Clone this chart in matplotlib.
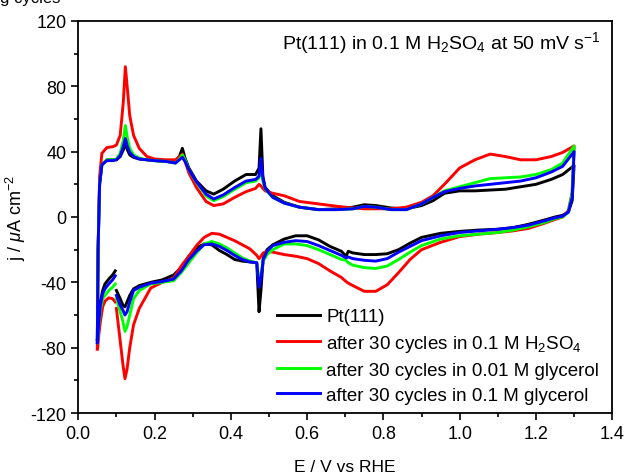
import numpy as np
import matplotlib.pyplot as plt

plt.rcParams['font.family'] = ['Liberation Sans', 'DejaVu Sans']
plt.rcParams['mathtext.fontset'] = 'custom'
plt.rcParams['mathtext.rm'] = 'Liberation Sans'
plt.rcParams['mathtext.it'] = 'Liberation Sans:italic'
plt.rcParams['axes.unicode_minus'] = False

# potential grids (V vs RHE)
E_up = [0.05, 0.052, 0.056, 0.062, 0.075, 0.09, 0.10, 0.11, 0.118, 0.1235, 0.129, 0.135,
        0.145, 0.16, 0.18, 0.20, 0.23, 0.255, 0.265, 0.273, 0.28, 0.29, 0.31, 0.335, 0.355,
        0.38, 0.41, 0.44, 0.465, 0.474, 0.479, 0.484, 0.49, 0.51, 0.54, 0.58, 0.63, 0.68,
        0.72, 0.75, 0.78, 0.82, 0.86, 0.9, 0.93, 0.96, 1.0, 1.04, 1.08, 1.12, 1.16, 1.2,
        1.24, 1.27, 1.3]
E_down = [1.3, 1.295, 1.285, 1.27, 1.25, 1.22, 1.18, 1.14, 1.1, 1.05, 1.0, 0.95, 0.9, 0.87,
          0.84, 0.81, 0.78, 0.75, 0.72, 0.708, 0.702, 0.69, 0.66, 0.63, 0.60, 0.57, 0.54,
          0.51, 0.495, 0.485, 0.479, 0.474, 0.468, 0.45, 0.43, 0.41, 0.39, 0.37, 0.35, 0.33,
          0.31, 0.29, 0.27, 0.25, 0.22, 0.19, 0.16, 0.145, 0.135, 0.128, 0.1225, 0.117, 0.11,
          0.10]
E_tail = [0.097, 0.09, 0.08, 0.07, 0.064, 0.058, 0.054, 0.051, 0.05]

# current density (uA cm-2)
pt_up = [-75, -20, 20, 32, 35, 35, 35, 37, 41, 45, 41, 38, 36.5, 35.5, 35, 34.5, 34, 33.5,
         37, 42, 36, 30, 22, 16, 14, 17, 22, 26, 26, 30, 54, 25, 18, 13, 9, 6, 4.5, 5, 6,
         7.5, 7, 5.5, 5, 7, 10, 14.5, 16, 16, 16.5, 17, 18.5, 20, 23, 26, 31.5]
pt_down = [31.5, 10, 3, 1, 0, -2, -4.5, -6.5, -7.5, -8, -8.8, -10, -12.5, -16, -20, -22.5,
           -23, -23, -22, -21, -24, -21, -18, -14, -11.5, -11.5, -13.5, -17, -20, -25, -45,
           -58, -28, -27.5, -27, -26, -23, -20.5, -17, -16.5, -19, -24, -31, -35.5, -38.5,
           -40, -42, -44, -48, -52, -55, -54, -50, -45]
pt_tail = [-33, -35.5, -38, -41, -45, -52, -62, -72, -75]

h2so4_up = [-80, -20, 25, 39, 42.5, 43, 44, 50, 70, 92, 78, 62, 50, 42, 37, 35.5, 35, 35,
            37, 38.5, 34, 27, 18, 9.5, 7, 8, 12, 15.5, 17.5, 20, 19, 17.5, 16, 14.5, 13, 9.5,
            8, 6.5, 5.5, 5, 5, 5, 6, 9, 13, 20, 30, 35, 38.5, 37, 35, 35, 37, 39.5, 43.5]
h2so4_down = [43.5, 15, 4, 0, -1.5, -4, -7, -8.5, -9.5, -10.5, -12, -15.5, -20, -26, -34,
              -41.5, -45.5, -45.5, -42, -40.5, -39.5, -37, -33, -28.5, -25.5, -24, -23,
              -21.5, -21, -22, -24, -25.5, -23.5, -19.5, -17, -14.5, -12.5, -10.5, -10,
              -12.5, -17.5, -24, -30, -37.5, -40, -43.5, -56, -66, -80, -93, -99, -90, -76,
              -56]
h2so4_tail = [-52, -50, -49.5, -51.5, -55, -64, -72, -80, -81]

gly001_up = [-76, -20, 20, 32, 35, 35, 35.5, 39, 47, 56, 48, 42, 38, 36, 35, 34.5, 34, 33,
             35.5, 38, 35, 29, 21, 13, 10, 12.5, 17, 21, 22, 24, 30, 22, 17, 12, 8.5, 6,
             4.5, 4.5, 5, 6.5, 6, 4.5, 4.5, 8, 12, 16, 18.5, 21, 23.5, 24, 24.5, 26, 29, 33,
             43.5]
gly001_down = [43.5, 15, 3, 0, -1, -3.5, -6, -8, -9.5, -10.5, -11.5, -13.5, -17.5, -21.5,
               -26, -30, -31.5, -31, -29.5, -28, -26.5, -26, -23, -20, -17.5, -16.5, -16.5,
               -20, -23, -27, -35, -40, -28, -27, -25, -22, -19, -16.5, -15, -16.5, -22,
               -28, -34, -39, -40, -41, -45, -50, -60, -67, -70, -64, -58, -50]
gly001_tail = [-41, -43, -45, -48, -50, -57, -66, -76, -77]

gly01_up = [-76, -20, 20, 32, 34.5, 34.5, 35, 37.5, 43, 48, 43, 39.5, 37, 35.5, 35, 34.5,
            34, 33, 35, 36.5, 34, 29, 21.5, 14, 11, 13.5, 18, 22, 23, 25, 36, 24, 17.5, 12,
            8.5, 6, 4.5, 4.5, 5, 6.5, 6, 4.5, 4.5, 8, 12, 15.5, 17.5, 19, 20, 21, 22, 24,
            27.5, 31, 40]
gly01_down = [40, 12, 3, 0.5, -0.5, -2.5, -5, -6.5, -7.5, -8.5, -9.5, -11.5, -14.5, -18,
              -21.5, -25.5, -27, -26.5, -25.5, -24.5, -25, -23.5, -20.5, -17.5, -15, -14.5,
              -15.5, -17.5, -21, -26, -38, -43, -28, -27.5, -26, -23.5, -20.5, -18, -16.5,
              -17, -21, -26, -33, -38, -39.5, -40.5, -43, -45, -52, -58, -60, -57, -54, -48]
gly01_tail = [-36, -38.5, -41, -44, -47, -54, -64, -75, -77]

labels = ['Pt(111)',
          'after 30 cycles in 0.1 M H$_2$SO$_4$',
          'after 30 cycles in 0.01 M glycerol',
          'after 30 cycles in 0.1 M glycerol']
colors = ['#000000', '#ff0000', '#00ff00', '#0000ff']

series = [(pt_up, pt_down, pt_tail),
          (h2so4_up, h2so4_down, h2so4_tail),
          (gly001_up, gly001_down, gly001_tail),
          (gly01_up, gly01_down, gly01_tail)]

E_all = np.concatenate([E_up, E_down, [np.nan], E_tail])

fig = plt.figure(figsize=(6.26, 4.77), dpi=100)
ax = fig.add_axes([0.125, 0.132, 0.853, 0.822])

for (up, down, tail), c, lab in zip(series, colors, labels):
    j = np.concatenate([up, down, [np.nan], tail])
    ax.plot(E_all, j, color=c, lw=2.1, label=lab)

ax.set_xlim(0.0, 1.4)
ax.set_ylim(-120, 120)
ax.set_xticks(np.arange(0, 1.41, 0.2))
ax.set_xticks(np.arange(0.1, 1.4, 0.2), minor=True)
ax.set_yticks(np.arange(-120, 121, 40))
ax.set_yticks(np.arange(-100, 120, 40), minor=True)
ax.set_xticklabels(['0.0', '0.2', '0.4', '0.6', '0.8', '1.0', '1.2', '1.4'])
ax.tick_params(which='major', direction='out', length=5, width=1.2, labelsize=13,
               top=False, right=False)
ax.tick_params(which='minor', direction='out', length=3, width=1.2, top=False, right=False)
for s in ax.spines.values():
    s.set_linewidth(1.3)

ax.set_xlabel('E / V vs RHE', fontsize=12.5, labelpad=12)
ax.set_ylabel(r'j / $\mu$A cm$^{-2}$', fontsize=13, labelpad=2)

ax.text(0.978, 0.945, 'Pt(111) in 0.1 M H$_2$SO$_4$ at 50 mV s$^{-1}$',
        transform=ax.transAxes, ha='right', va='center', fontsize=14)

ax.legend(loc='lower left', bbox_to_anchor=(0.34, -0.02), frameon=False, fontsize=13.5,
          handlelength=2.3, handletextpad=0.35, labelspacing=0.42)

fig.text(0.0, 1.0 - 3 / 477, 'g cycles', fontsize=12, ha='left', va='baseline')

fig.savefig('out.png', dpi=100)
